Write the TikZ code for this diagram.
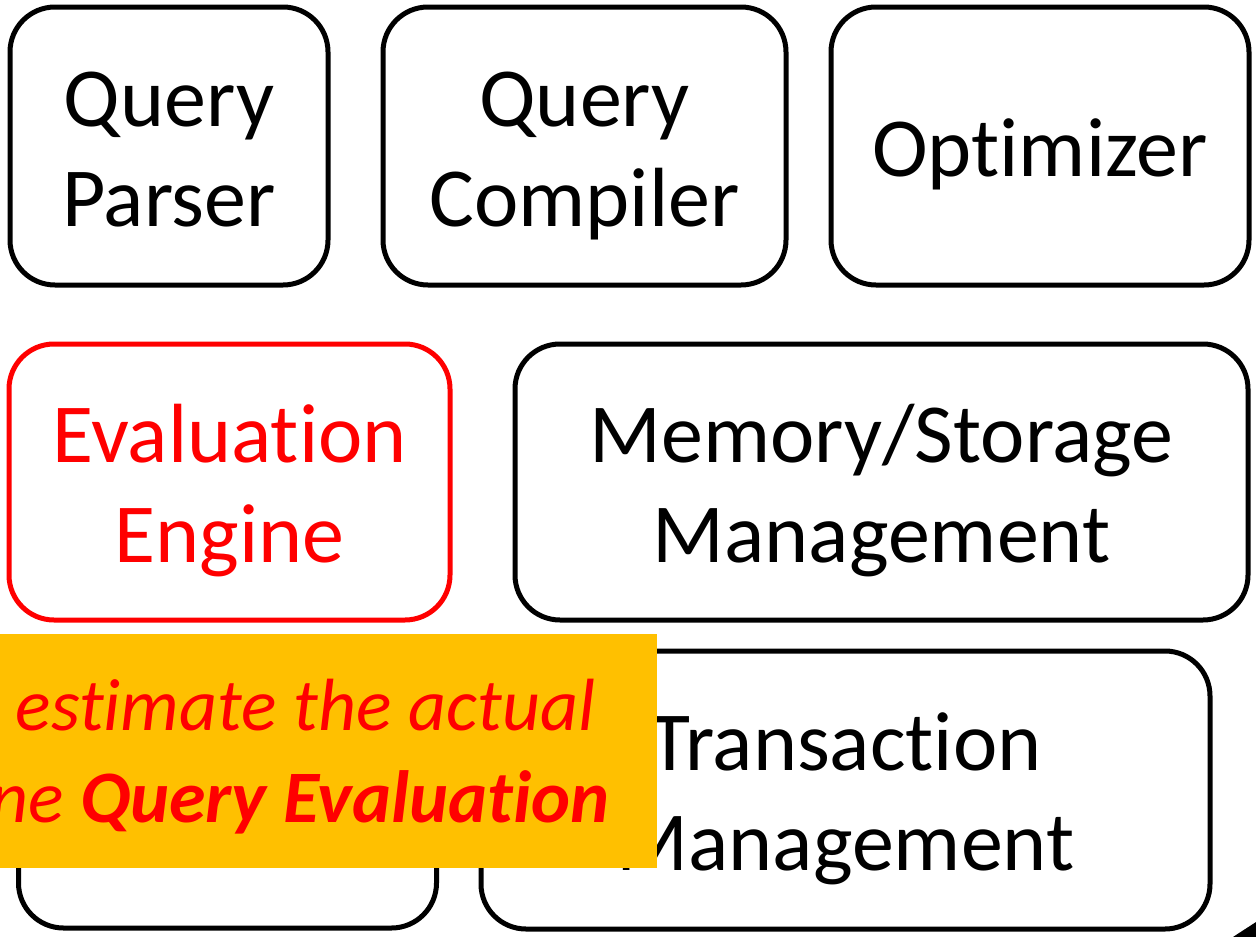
\documentclass[tikz,border=0pt]{standalone}
\usepackage{fontspec}
\setmainfont{Carlito}[Ligatures=NoCommon]
\definecolor{noteorange}{HTML}{FFC000}
\definecolor{notered}{HTML}{FF0000}
\newcommand\lnstrut{\rule[-20pt]{0pt}{100pt}}
\begin{document}
\begin{tikzpicture}[x=1pt,y=-1pt,
  box/.style={draw, line width=5pt, rounded corners=45pt, rectangle, inner sep=0pt, align=center,
    font=\fontsize{84}{100}\selectfont},
  redbox/.style={box, draw=notered, text=notered},
  notebox/.style={fill=noteorange, rectangle, inner sep=0pt},
  notetext/.style={text=notered, inner sep=0pt, font=\fontsize{74}{92}\selectfont\itshape}]
\useasboundingbox (0,0) rectangle (1256,937);
\clip (0,0) rectangle (1256,937);
\fill[white] (0,0) rectangle (1256,937);
% top row
\node[box, minimum width=318pt, minimum height=278pt] (qp) at (169,146) {Query\lnstrut\\Parser\lnstrut};
\node[box, minimum width=403pt, minimum height=278pt] (qc) at (584.5,146) {Query\lnstrut\\Compiler\lnstrut};
\node[box, minimum width=418pt, minimum height=278pt] (opt) at (1040,146) {Optimizer\lnstrut};
% middle row
\node[redbox, minimum width=441pt, minimum height=276pt] (ee) at (229.5,482) {Evaluation\lnstrut\\Engine\lnstrut};
\node[box, minimum width=733pt, minimum height=276pt] (msm) at (881.5,482) {Memory/Storage\lnstrut\\Management\lnstrut};
% bottom row
\node[box, minimum width=418pt, minimum height=276pt] (hid) at (227.5,790) {};
\node[box, minimum width=729pt, minimum height=278pt] (tm) at (845.5,790) {Transaction\lnstrut\\Management\lnstrut};
% note
\node[notebox, minimum width=657pt, minimum height=234pt] (note) at (328.5,751) {};
\node[notetext, anchor=base] (l1) at (305.5,730) {estimate the actual};
\node[notetext, anchor=base east] (l2) at (610,822) {ne \textbf{Query Evaluation}};
% corner fragment
\fill (1233,937) .. controls (1242,931) and (1250,926) .. (1256,922) -- (1256,937) -- cycle;
\end{tikzpicture}
\end{document}
